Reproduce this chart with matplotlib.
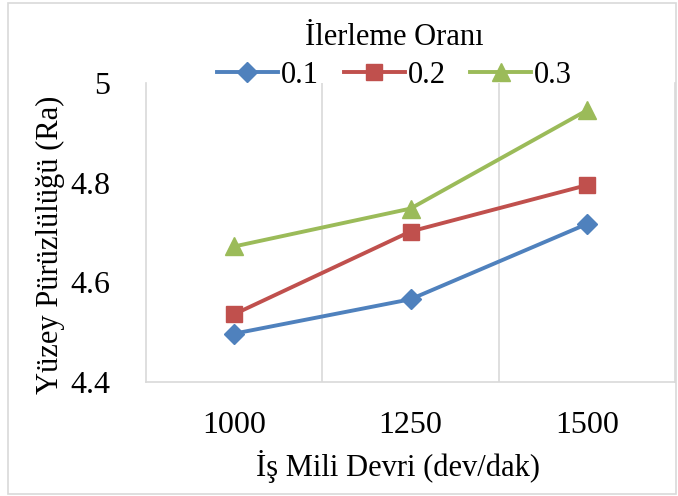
import matplotlib
matplotlib.use('Agg')
import matplotlib.pyplot as plt
from matplotlib.patches import Rectangle
import numpy as np

# spindle speed (rpm) categories and surface roughness per feed rate
speeds = ['1000', '1250', '1500']
feed_labels = ['0.1', '0.2', '0.3']
ra_01 = [4.497, 4.566, 4.717]
ra_02 = [4.536, 4.702, 4.795]
ra_03 = [4.672, 4.748, 4.945]
y_ticks = [4.4, 4.6, 4.8, 5.0]

COLORS = ['#4F81BD', '#C0504D', '#9BBB59']
MARKERS = [('D', 10), ('s', 12), ('^', 13)]
GRID = '#D9D9D9'
FS = 22

plt.rcParams['font.family'] = ['Liberation Serif', 'DejaVu Serif']

fig = plt.figure(figsize=(6.78, 4.96), dpi=100)
ax = fig.add_axes([146 / 678, 1 - 382 / 496, 529 / 678, 299 / 496])

x = np.arange(len(speeds))
for i, vals in enumerate([ra_01, ra_02, ra_03]):
    m, ms = MARKERS[i]
    ax.plot(x, vals, color=COLORS[i], linewidth=2.8, marker=m, markersize=ms,
            label=feed_labels[i], zorder=3)

ax.set_xlim(-0.5, len(speeds) - 0.5)
ax.set_ylim(y_ticks[0], y_ticks[-1])
ax.set_xticks(x)
ax.set_xticklabels(speeds)
ax.set_yticks(y_ticks)
ax.set_yticklabels([f'{v:g}' for v in y_ticks])
ax.tick_params(length=0, labelsize=FS + 1)
ax.tick_params(axis='y', pad=26)
ax.tick_params(axis='x', pad=21)

# category separators
for b in np.arange(0.5, len(speeds) - 0.5):
    ax.axvline(b, color=GRID, linewidth=1.2, zorder=1)
for side in ['left', 'right', 'bottom']:
    ax.spines[side].set_color(GRID)
    ax.spines[side].set_linewidth(1.2)
ax.spines['top'].set_visible(False)

ax.set_xlabel('İş Mili Devri (dev/dak)', fontsize=FS, va='center')
ax.xaxis.set_label_coords(0.476, -0.284)
ax.set_ylabel('Yüzey Pürüzlülüğü (Ra)', fontsize=FS, va='center')
ax.yaxis.set_label_coords(-0.181, 0.458)

leg = ax.legend(title='İlerleme Oranı', ncol=3, fontsize=FS, title_fontsize=FS,
                loc='lower center', bbox_to_anchor=(0.47, 0.905), frameon=False,
                handlelength=2.0, handletextpad=0.1, columnspacing=0.8,
                borderpad=0.2, labelspacing=0.3)

fig.patches.append(Rectangle((8 / 678, 2 / 496), 668 / 678, 491 / 496,
                             transform=fig.transFigure, fill=False,
                             edgecolor=GRID, linewidth=1.2))

fig.savefig('out.png', dpi=100)
